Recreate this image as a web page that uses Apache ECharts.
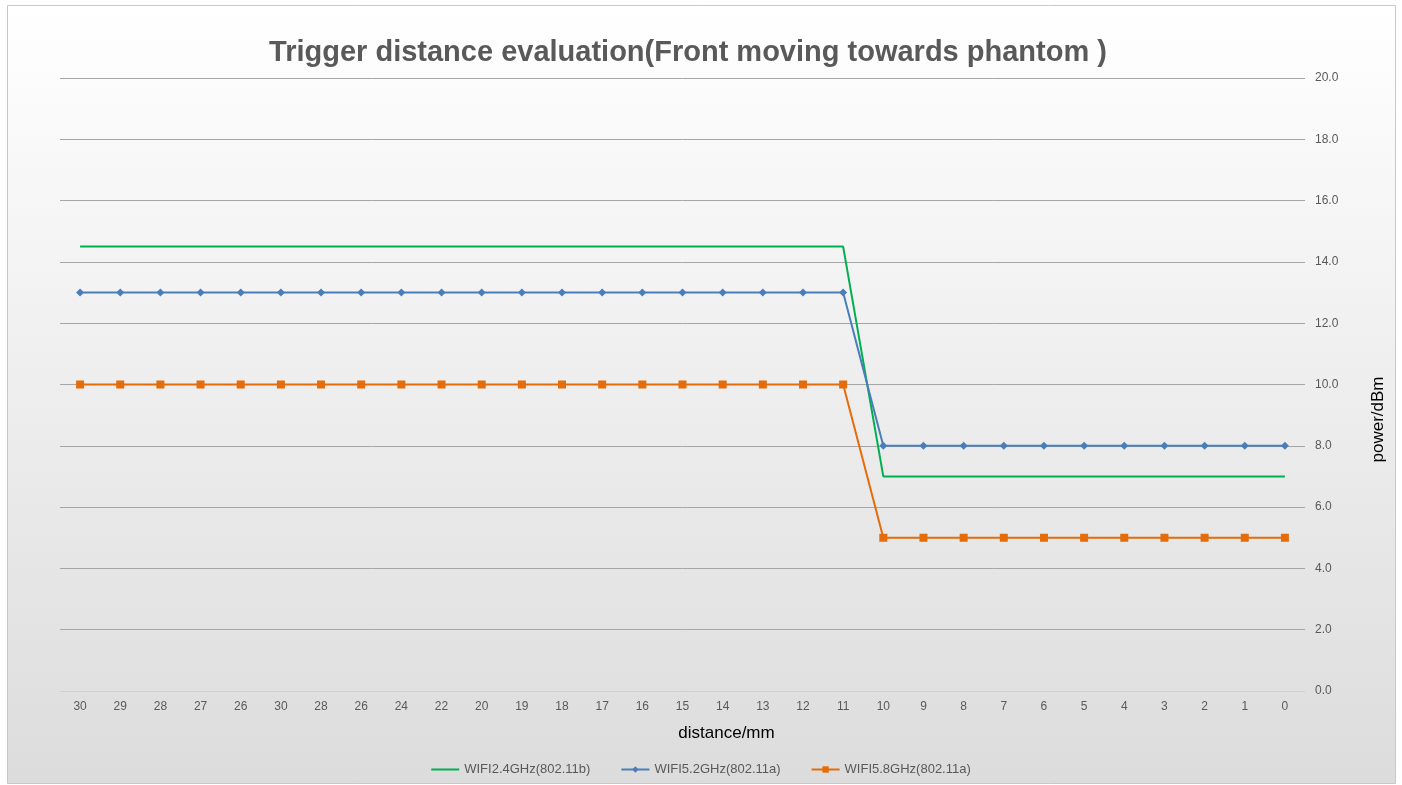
<!DOCTYPE html>
<html><head><meta charset="utf-8">
<script src="https://cdn.jsdelivr.net/npm/echarts@6/dist/echarts.min.js"></script>
<style>html,body{margin:0;padding:0;background:#fff}#c{width:1402px;height:785px}</style>
</head><body><div id="c"></div>
<script>
const categories = ['30','29','28','27','26','30','28','26','24','22','20','19','18','17','16','15','14','13','12','11','10','9','8','7','6','5','4','3','2','1','0'];
const wifi24 = [14.5,14.5,14.5,14.5,14.5,14.5,14.5,14.5,14.5,14.5,14.5,14.5,14.5,14.5,14.5,14.5,14.5,14.5,14.5,14.5,7,7,7,7,7,7,7,7,7,7,7];
const wifi52 = [13,13,13,13,13,13,13,13,13,13,13,13,13,13,13,13,13,13,13,13,8,8,8,8,8,8,8,8,8,8,8];
const wifi58 = [10,10,10,10,10,10,10,10,10,10,10,10,10,10,10,10,10,10,10,10,5,5,5,5,5,5,5,5,5,5,5];
const seriesNames = ['WIFI2.4GHz(802.11b)','WIFI5.2GHz(802.11a)','WIFI5.8GHz(802.11a)'];

const chart = echarts.init(document.getElementById('c'));
const txt = '#595959';
const ff = 'Liberation Sans, Arial, sans-serif';
chart.setOption({
  backgroundColor: '#ffffff',
  animation: false,
  graphic: [{
    type: 'rect', z: -10, silent: true,
    shape: {x: 7.5, y: 5.5, width: 1388, height: 778},
    style: {
      fill: new echarts.graphic.LinearGradient(0,0,0,1,[{offset:0,color:'#ffffff'},{offset:1,color:'#dcdcdc'}]),
      stroke: '#c8c8c8', lineWidth: 1
    }
  }],
  title: {
    text: 'Trigger distance evaluation(Front moving towards phantom )',
    left: 683, top: 33, textAlign: 'center',
    textStyle: {fontFamily: ff, fontSize: 29, fontWeight: 'bold', color: txt}
  },
  legend: {
    data: [
      {name: seriesNames[0], icon: 'path://M0,0 H28 V2 H0 Z'},
      {name: seriesNames[1]},
      {name: seriesNames[2]}
    ],
    left: 'center', top: 758,
    itemWidth: 28, itemHeight: 8, itemGap: 30,
    textStyle: {fontFamily: ff, fontSize: 13, color: txt}
  },
  grid: {left: 60, right: 97, top: 78, bottom: 94, containLabel: false},
  xAxis: {
    type: 'category', data: categories, boundaryGap: true,
    name: 'distance/mm', nameLocation: 'middle', nameGap: 34,
    nameTextStyle: {fontFamily: ff, fontSize: 17, color: '#000', padding: [0, 0, 0, 88]},
    axisLine: {show: true, lineStyle: {color: '#d0d0d0'}},
    axisTick: {show: false},
    axisLabel: {color: txt, fontSize: 12, margin: 10, interval: 0, fontFamily: ff}
  },
  yAxis: {
    type: 'value', position: 'right', min: 0, max: 20, interval: 2,
    name: 'power/dBm', nameLocation: 'middle', nameGap: 65, nameRotate: 90,
    nameTextStyle: {fontFamily: ff, fontSize: 17, color: '#000', padding: [0, 70, 0, 0]},
    axisLine: {show: false}, axisTick: {show: false},
    axisLabel: {color: txt, fontSize: 12, margin: 10, formatter: v => v.toFixed(1), fontFamily: ff},
    splitLine: {lineStyle: {color: '#a6a6a6', width: 1}}
  },
  series: [
    {name: seriesNames[0], type: 'line', data: wifi24, color: '#00b050',
     symbol: 'none', lineStyle: {width: 2}},
    {name: seriesNames[1], type: 'line', data: wifi52, color: '#4a7ebb',
     symbol: 'diamond', symbolSize: 8, showAllSymbol: true,
     lineStyle: {width: 2}},
    {name: seriesNames[2], type: 'line', data: wifi58, color: '#e46c0a',
     symbol: 'rect', symbolSize: 8, showAllSymbol: true,
     lineStyle: {width: 2}}
  ]
});
</script></body></html>
